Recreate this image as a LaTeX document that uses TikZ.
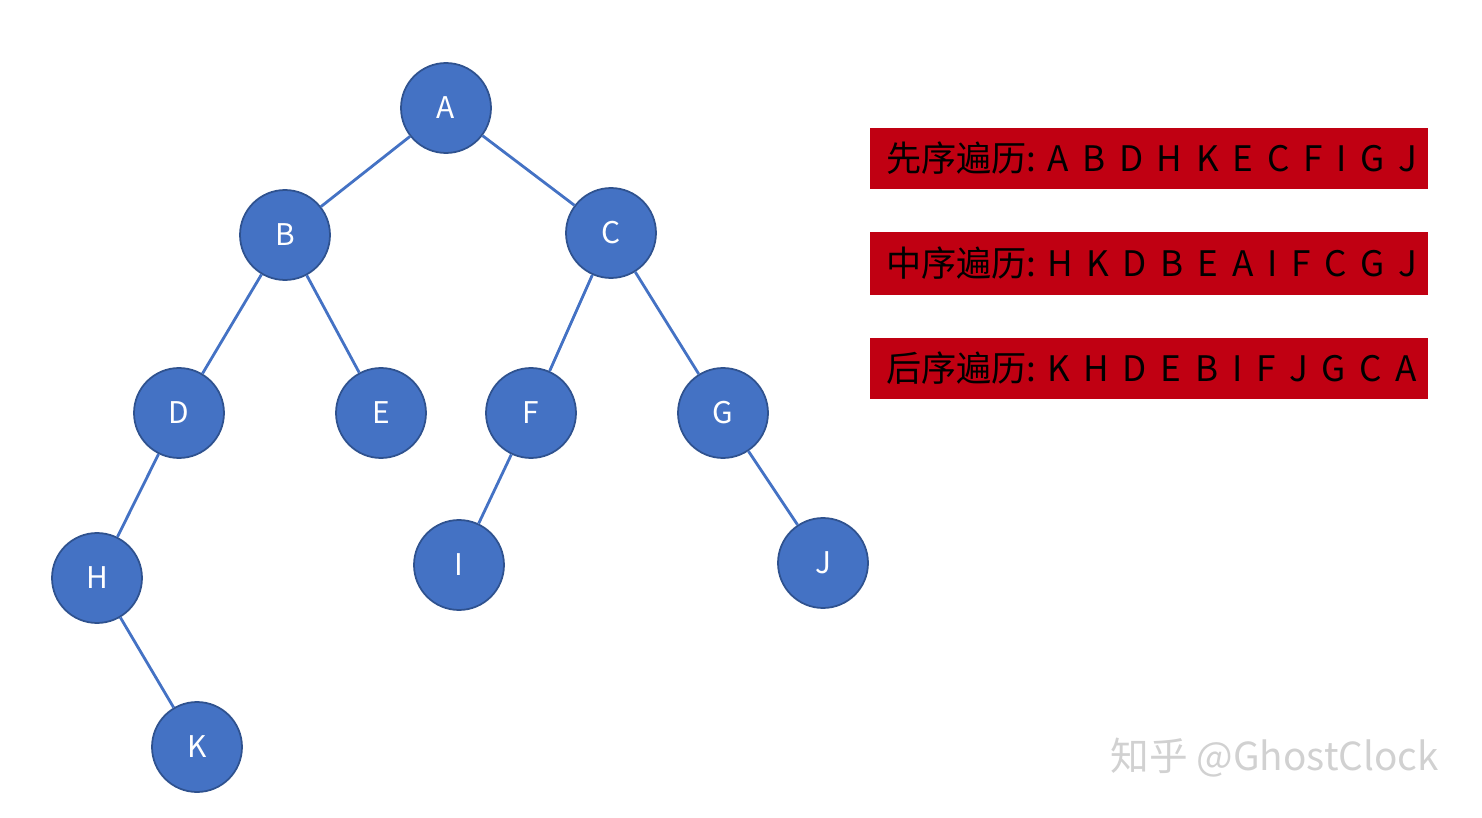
\documentclass[tikz,border=0pt]{standalone}
\usepackage{fontspec}
\setmainfont{Noto Sans CJK SC}
\newfontfamily\cjk{Noto Sans CJK SC}
\begin{document}
\begin{tikzpicture}[x=0.02cm,y=-0.02cm,
  tn/.style={circle,minimum size=1.8cm,inner sep=0pt,fill=blue1,draw=blue2,line width=1pt,text=white,font=\fontsize{17}{20}\selectfont},
  ed/.style={draw=blue1,line width=1.6pt},
  lab/.style={anchor=west,inner sep=0pt,font=\cjk\fontsize{20}{24}\selectfont},
  box/.style={fill=red1}]
\definecolor{blue1}{RGB}{68,114,196}
\definecolor{blue2}{RGB}{47,82,143}
\definecolor{red1}{RGB}{192,0,18}
\useasboundingbox (0,0) rectangle (1482,818);
\node[tn] (A) at (446,108) {A};
\node[tn] (B) at (285,235) {B};
\node[tn] (C) at (611,233) {C};
\node[tn] (D) at (179,413) {D};
\node[tn] (E) at (381,413) {E};
\node[tn] (F) at (531,413) {F};
\node[tn] (G) at (723,413) {G};
\node[tn] (H) at (97,578) {H};
\node[tn] (I) at (459,565) {I};
\node[tn] (J) at (823,563) {J};
\node[tn] (K) at (197,747) {K};
\foreach \a/\b in {A/B,A/C,B/D,B/E,C/F,C/G,D/H,H/K,F/I,G/J}
  \draw[ed] (\a) -- (\b);
\fill[box] (870,128) rectangle (1428,189);
\fill[box] (870,232) rectangle (1428,295);
\fill[box] (870,338) rectangle (1428,399);
\node[lab] (p1) at (886,158) {先序遍历: A\, B\, D\, H\, K\, E\, C\, F\, I\, G\, J};
\node[lab] (p2) at (886,263) {中序遍历: H\, K\, D\, B\, E\, A\, I\, F\, C\, G\, J};
\node[lab] (p3) at (886,368) {后序遍历: K\, H\, D\, E\, B\, I\, F\, J\, G\, C\, A};
\node[text=black!18,font=\cjk\fontsize{22}{26}\selectfont,anchor=east] (wm) at (1445,758) {知乎 @GhostClock};
\end{tikzpicture}
\end{document}
